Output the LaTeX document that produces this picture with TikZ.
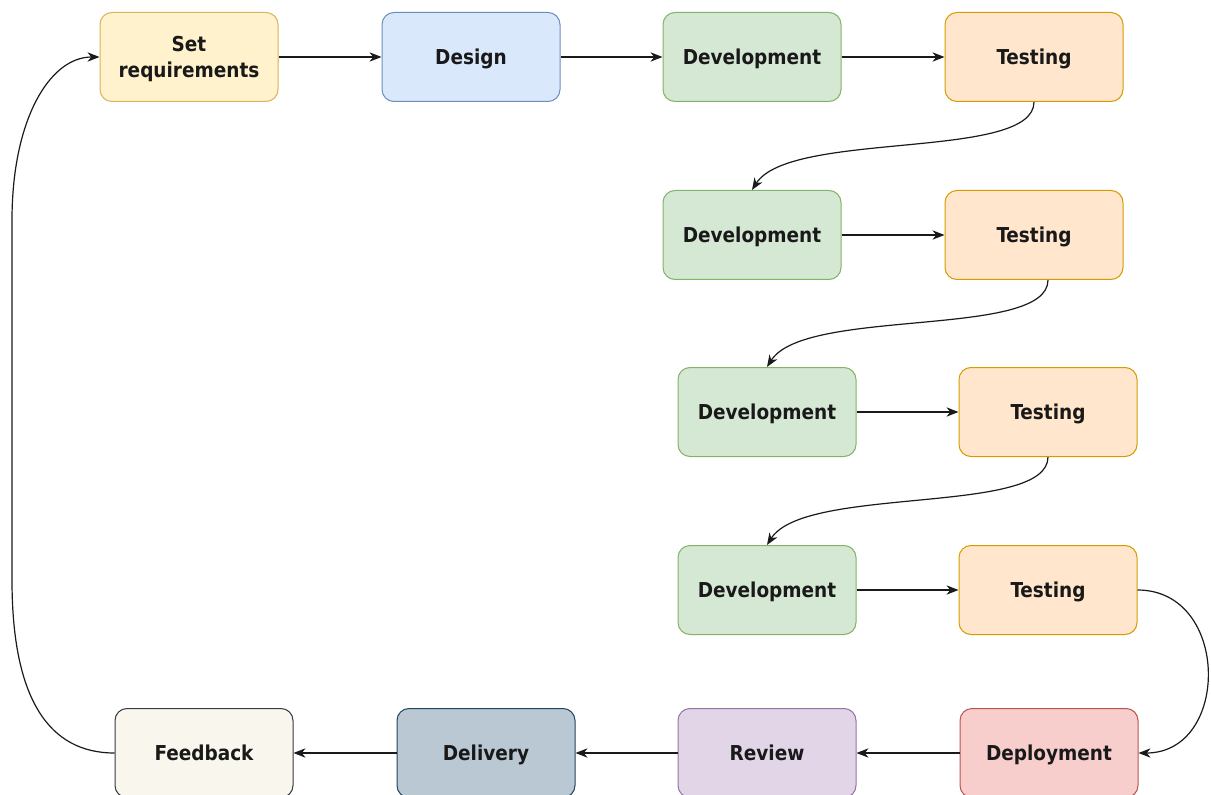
\documentclass[tikz,border=0pt]{standalone}
\usepackage{fontspec}
\setmainfont{DejaVu Sans Condensed}
\usepackage{tikz}
\usetikzlibrary{arrows.meta}
\usetikzlibrary{calc}
\definecolor{reqfill}{HTML}{FFF2CC}
\definecolor{reqline}{HTML}{D6B656}
\definecolor{desfill}{HTML}{DAE8FC}
\definecolor{desline}{HTML}{6C8EBF}
\definecolor{devfill}{HTML}{D5E8D4}
\definecolor{devline}{HTML}{82B366}
\definecolor{tstfill}{HTML}{FFE6CC}
\definecolor{tstline}{HTML}{D79B00}
\definecolor{depfill}{HTML}{F8CECC}
\definecolor{depline}{HTML}{B85450}
\definecolor{revfill}{HTML}{E1D5E7}
\definecolor{revline}{HTML}{9673A6}
\definecolor{delfill}{HTML}{BAC8D3}
\definecolor{delline}{HTML}{23445D}
\definecolor{fbfill}{HTML}{F9F7ED}
\definecolor{fbline}{HTML}{36393D}
\definecolor{edgeline}{HTML}{1A1A1A}

\begin{document}
\begin{tikzpicture}[x=0.75pt,y=0.75pt,yscale=-1,xscale=1,
  stagebase/.style={draw, rounded corners=9pt, line width=0.75pt, minimum width=133.5pt, minimum height=66.75pt, inner sep=0pt, align=center, text=black!90, font=\bfseries\fontsize{15.4}{19.5}\selectfont},
  stage/.style={stagebase, text height=11.2pt, text depth=0pt},
  flow/.style={draw=edgeline, line width=0.9pt, -{Stealth[length=9pt,width=7pt,inset=2.8pt]}}]
\useasboundingbox (0,0) rectangle (1211,795);

%Shape: Rounded Rect (first row)
\node[stagebase, text depth=0pt, fill=reqfill, draw=reqline] (setreq) at (189,57) {Set\\requirements};
\node[stage, fill=desfill, draw=desline] (design) at (471,57) {Design};
\node[stage, fill=devfill, draw=devline] (dev1) at (752,57) {Development};
\node[stage, fill=tstfill, draw=tstline] (test1) at (1034,57) {Testing};
%Shape: Rounded Rect (iterations)
\node[stage, fill=devfill, draw=devline] (dev2) at (752,235) {Development};
\node[stage, fill=tstfill, draw=tstline] (test2) at (1034,235) {Testing};
\node[stage, fill=devfill, draw=devline] (dev3) at (767,412) {Development};
\node[stage, fill=tstfill, draw=tstline] (test3) at (1048,412) {Testing};
\node[stage, fill=devfill, draw=devline] (dev4) at (767,590) {Development};
\node[stage, fill=tstfill, draw=tstline] (test4) at (1048,590) {Testing};
%Shape: Rounded Rect (last row)
\node[stage, fill=fbfill, draw=fbline] (feedback) at (204,753) {Feedback};
\node[stage, fill=delfill, draw=delline] (delivery) at (486,753) {Delivery};
\node[stage, fill=revfill, draw=revline] (review) at (767,753) {Review};
\node[stage, fill=depfill, draw=depline] (deploy) at (1049,753) {Deployment};

%Straight Lines
\draw[flow] (setreq) -- (design);
\draw[flow] (design) -- (dev1);
\draw[flow] (dev1) -- (test1);
\draw[flow] (dev2) -- (test2);
\draw[flow] (dev3) -- (test3);
\draw[flow] (dev4) -- (test4);
\draw[flow] (deploy) -- (review);
\draw[flow] (review) -- (delivery);
\draw[flow] (delivery) -- (feedback);

%Curve Lines
\draw[flow] (test1.south) .. controls +(0,59) and +(38,-60) .. (dev2.north);
\draw[flow] ($(test2.south)+(14,0)$) .. controls +(0,59) and +(38,-60) .. (dev3.north);
\draw[flow] (test3.south) .. controls +(0,59) and +(38,-60) .. (dev4.north);
\draw[flow] (test4.east) .. controls +(93,0) and +(92,0) .. (deploy.east);
%Curve Lines (back to the start)
\coordinate (loopbot) at (12,580);
\coordinate (looptop) at (12,220);
\draw[flow] (feedback.west) .. controls +(-65,0) and +(0,120) .. (loopbot) -- (looptop) .. controls +(0,-100) and +(-50,0) .. (setreq.west);

\end{tikzpicture}
\end{document}
